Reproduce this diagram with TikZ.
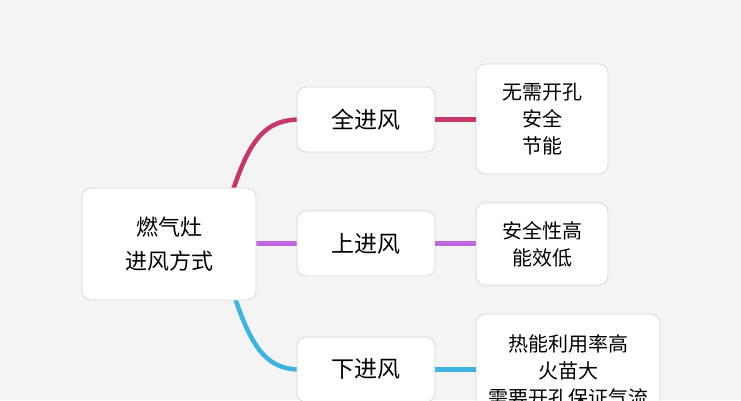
\documentclass[tikz,border=0pt]{standalone}
\usepackage{fontspec}
\newfontfamily\cjk{Noto Sans CJK SC}
\definecolor{bg}{HTML}{F4F4F4}
\definecolor{cA}{HTML}{C8376B}
\definecolor{cB}{HTML}{C067DF}
\definecolor{cC}{HTML}{3CB3E3}
\definecolor{bd}{HTML}{D8D8D8}
\tikzset{box/.style={draw=bd,fill=white,rounded corners=9pt,line width=0.8pt,align=center,font=\cjk,inner sep=0pt},
link/.style={line width=4.5pt}}
\begin{document}
\begin{tikzpicture}[x=1pt,y=-1pt]
\clip (0,0) rectangle (741,400);
\fill[bg] (0,0) rectangle (741,400);
\useasboundingbox (0,0) rectangle (741,400);
\draw[link,cA] (233,190) .. controls (250,140) and (265,119.5) .. (300,119.5);
\draw[link,cB] (250,243.5) -- (300,243.5);
\draw[link,cC] (235,298) .. controls (252,348) and (267,369.5) .. (300,369.5);
\node[box,minimum width=174pt,minimum height=112pt,font=\cjk\fontsize{22}{34}\selectfont] (root) at (169,244) {燃气灶\\进风方式};
\node[box,minimum width=138pt,minimum height=65pt,font=\cjk\fontsize{23}{26}\selectfont] (m1) at (366,119.5) {全进风};
\node[box,minimum width=138pt,minimum height=65pt,font=\cjk\fontsize{23}{26}\selectfont] (m2) at (366,243.5) {上进风};
\node[box,minimum width=138pt,minimum height=65pt,font=\cjk\fontsize{23}{26}\selectfont] (m3) at (366,369.5) {下进风};
\node[box,minimum width=132pt,minimum height=110pt,font=\cjk\fontsize{20}{27}\selectfont] (r1) at (542,119) {无需开孔\\安全\\节能};
\node[box,minimum width=132pt,minimum height=82pt,font=\cjk\fontsize{20}{27}\selectfont] (r2) at (542,244) {安全性高\\能效低};
\node[box,minimum width=184pt,minimum height=114pt,font=\cjk\fontsize{20}{27}\selectfont] (r3) at (568,371) {热能利用率高\\火苗大\\需要开孔保证气流};
\draw[link,cA] (m1.east) -- (r1.west |- m1.east);
\draw[link,cB] (m2.east) -- (r2.west |- m2.east);
\draw[link,cC] (m3.east) -- (r3.west |- m3.east);
\end{tikzpicture}
\end{document}
